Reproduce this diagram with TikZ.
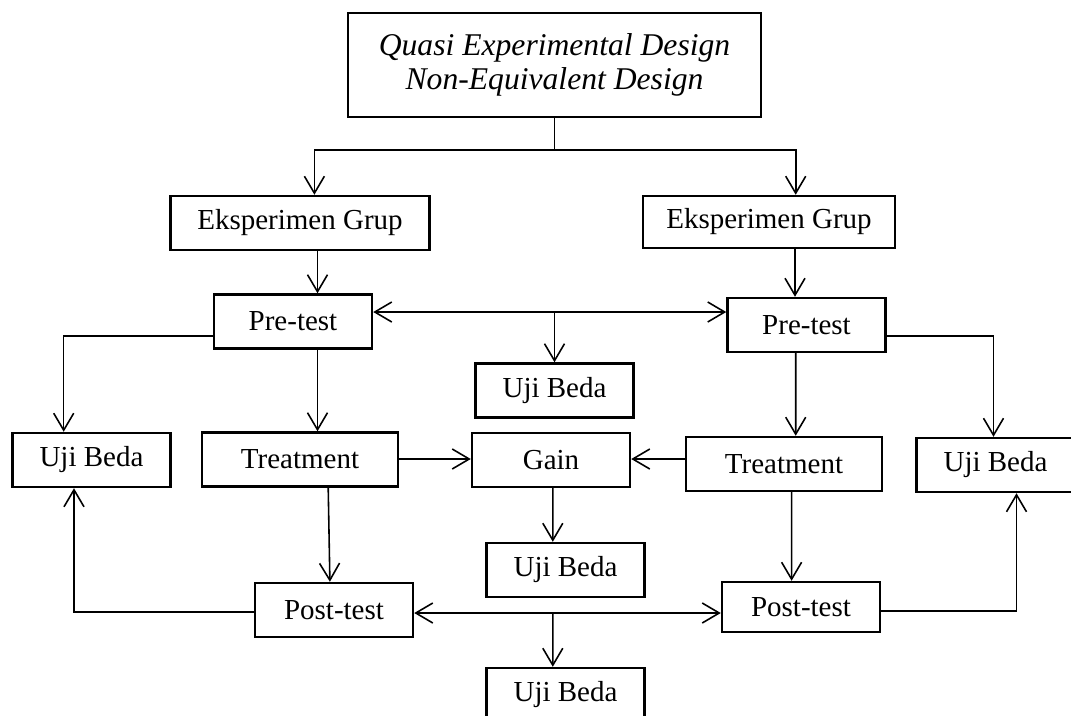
\documentclass[tikz,border=0pt]{standalone}
\usepackage{fontspec}
\setmainfont{Liberation Serif}
\usetikzlibrary{arrows.meta, positioning, calc}

\tikzset{
  box/.style={draw, line width=1.4pt, minimum width=31.6mm, minimum height=10.8mm, inner sep=0pt, font=\fontsize{16.5}{19}\selectfont},
  wide/.style={box, minimum width=39.2mm},
  line/.style={line width=0.9pt},
  >={Straight Barb[length=3.4mm,width=4mm]}
}

\begin{document}
\begin{tikzpicture}[x=0.2mm,y=-0.2mm]
\useasboundingbox (0,0) rectangle (1071,715);
\clip (0,0) rectangle (1071,715);

\node[box, minimum width=82.6mm, minimum height=20.8mm, align=center, font=\fontsize{18}{19}\selectfont\itshape] (design) at (554.5,65) {Quasi Experimental Design\\Non-Equivalent Design};

\node[box, minimum width=51.8mm] (grupA) at (300,223) {Eksperimen Grup};
\node[box, minimum width=50.4mm, minimum height=10.4mm] (grupB) at (769,222) {Eksperimen Grup};
\node[box] (preA) at (293,321.5) {Pre-test};
\node[box] (preB) at (806.5,325) {Pre-test};
\node[box] (ujiPre) at (554.5,390.5) {Uji Beda};
\node[box] (ujiA) at (91.5,460) {Uji Beda};
\node[wide] (treatA) at (300,459.5) {Treatment};
\node[box] (gain) at (551,460) {Gain};
\node[wide] (treatB) at (784,464) {Treatment};
\node[box] (ujiB) at (995.5,465) {Uji Beda};
\node[box] (ujiGain) at (565.5,570) {Uji Beda};
\node[box] (postA) at (334,610) {Post-test};
\node[box, minimum height=10mm] (postB) at (801,607) {Post-test};
\node[box] (ujiPost) at (565.5,695) {Uji Beda};

\coordinate (split) at (554.5,150);
\draw[line] (design.south) -- (split);
\draw[line,->] (split) -| ($(grupA.north)+(14.4,0)$);
\draw[line,->] (split) -| ($(grupB.north)+(26.7,0)$);
\draw[line,->] ($(grupA.south)+(17.5,0)$) -- ($(preA.north)+(24.5,0)$);
\draw[line,->] ($(grupB.south)+(26,0)$) -- ($(preB.north)+(-11.5,0)$);

\draw[line,<->] ($(preA.east)+(0,-9.5)$) -- ($(preB.west)+(0,-13)$);
\coordinate (preMid) at (554.5,312);
\draw[line,->] (preMid) -- (ujiPre.north);
\draw[line,->] ($(preA.west)+(0,14.5)$) -| ($(ujiA.north)+(-27.8,0)$);
\draw[line,->] ($(preB.east)+(0,11)$) -| ($(ujiB.north)+(-2,0)$);
\draw[line,->] ($(preA.south)+(24.5,0)$) -- ($(treatA.north)+(17.5,0)$);
\draw[line,->] ($(preB.south)+(-10.8,0)$) -- ($(treatB.north)+(11.7,0)$);

\draw[line,->] ($(treatA.east)+(0,-0.5)$) -- ($(gain.west)+(0,-1)$);
\draw[line,->] ($(treatB.west)+(0,-5)$) -- ($(gain.east)+(0,-1)$);
\draw[line,->] ($(gain.south)+(1.8,0)$) -- ($(ujiGain.north)+(-12.7,0)$);
\draw[line,->] ($(treatA.south)+(28.2,0)$) -- ($(postA.north)+(-4.1,0)$);
\draw[line,->] ($(treatB.south)+(7.6,0)$) -- ($(postB.north)+(-9.4,0)$);

\draw[line,->] ($(postA.west)+(0,2)$) -| ($(ujiA.south)+(-17.5,0)$);
\draw[line,->] ($(postB.east)+(0,4)$) -| ($(ujiB.south)+(21,0)$);
\draw[line,<->] ($(postA.east)+(0,3)$) -- ($(postB.west)+(0,6)$);
\coordinate (postMid) at (552.8,613);
\draw[line,->] (postMid) -- ($(ujiPost.north)+(-12.7,0)$);
%\draw[step=50,color=gray!50] (0,0) grid (1071,715);

\end{tikzpicture}
\end{document}
